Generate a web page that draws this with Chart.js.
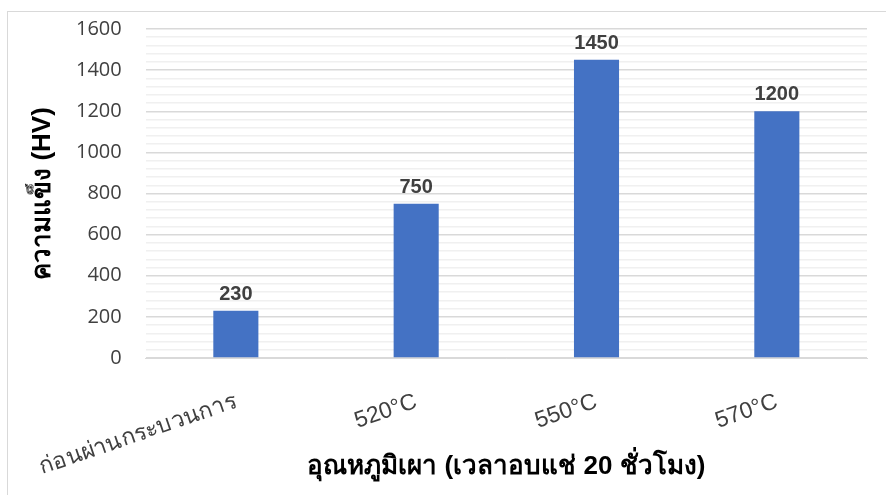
<!DOCTYPE html>
<html>
<head>
<meta charset="utf-8">
<script src="https://cdn.jsdelivr.net/npm/chart.js@4.4.1/dist/chart.umd.min.js"></script>
<style>
  html, body { margin: 0; padding: 0; background: #fff; }
  #wrap { width: 886px; height: 495px; position: relative; }
</style>
</head>
<body>
<div id="wrap"><canvas id="chart"></canvas></div>
<script>
// ข้อมูลกราฟ
const categories = ["ก่อนผ่านกระบวนการ", "520°C", "550°C", "570°C"];
const hardness = [230, 750, 1450, 1200];
const yTicks = [0, 200, 400, 600, 800, 1000, 1200, 1400, 1600];

const xTitle = "อุณหภูมิเผา (เวลาอบแช่ 20 ชั่วโมง)";
const yTitle = "ความแข็ง (HV)";

// กรอบรอบกราฟ
const frame = {
  id: "frame",
  beforeDraw(chart) {
    const ctx = chart.ctx;
    ctx.save();
    ctx.fillStyle = "#fff";
    ctx.fillRect(0, 0, chart.width, chart.height);
    ctx.strokeStyle = "#d9d9d9";
    ctx.lineWidth = 1;
    ctx.strokeRect(7.5, 11.5, chart.width + 20, chart.height + 20);
    ctx.restore();
  }
};

// ตัวเลขบนแท่ง
const barLabels = {
  id: "barLabels",
  afterDatasetsDraw(chart) {
    const ctx = chart.ctx;
    const meta = chart.getDatasetMeta(0);
    ctx.save();
    ctx.font = "bold 20px 'Liberation Sans', Arial, sans-serif";
    ctx.fillStyle = "#404040";
    ctx.textAlign = "center";
    ctx.textBaseline = "alphabetic";
    meta.data.forEach((bar, i) => {
      ctx.fillText(hardness[i], bar.x, bar.y - 11);
    });
    ctx.restore();
  }
};

const ctx = document.getElementById("chart").getContext("2d");
new Chart(ctx, {
  type: "bar",
  data: {
    labels: categories,
    datasets: [{
      data: hardness,
      backgroundColor: "#4472c4",
      barPercentage: 0.5,
      categoryPercentage: 0.5
    }]
  },
  options: {
    responsive: true,
    maintainAspectRatio: false,
    animation: false,
    layout: { padding: { left: 8, right: 19, top: 29, bottom: 0 } },
    plugins: {
      legend: { display: false },
      tooltip: { enabled: false }
    },
    scales: {
      x: {
        grid: { display: false },
        border: { color: "#d9d9d9", width: 1 },
        ticks: {
          color: "#404040",
          font: { family: "'Liberation Sans', Arial, sans-serif", size: 23 },
          minRotation: 19,
          maxRotation: 19,
          padding: 22
        },
        title: {
          display: true,
          text: xTitle,
          color: "#000",
          font: { family: "'Liberation Sans', Arial, sans-serif", size: 26, weight: "bold" },
          padding: { top: 0, bottom: 13 }
        },
        afterFit(axis) { axis.height = 495 - 358; }
      },
      y: {
        min: 0,
        max: 1600,
        border: { display: false },
        grid: {
          drawTicks: false,
          color: (c) => (yTicks.includes(c.tick.value) ? "#d9d9d9" : "#f0f0f0"),
          lineWidth: 1.5
        },
        ticks: {
          stepSize: 40,
          autoSkip: false,
          padding: 24,
          color: "#404040",
          font: { family: "'Open Sans', sans-serif", size: 20 },
          callback: (v) => (yTicks.includes(v) ? v : "")
        },
        title: {
          display: true,
          text: yTitle,
          color: "#000",
          font: { family: "'Liberation Sans', Arial, sans-serif", size: 26, weight: "bold" },
          padding: { top: 19, bottom: 0 }
        },
        afterFit(axis) {
          axis.width = 145 - 8;
          axis.paddingTop = 0;
          axis.paddingBottom = 0;
        }
      }
    }
  },
  plugins: [frame, barLabels]
});
</script>
</body>
</html>
